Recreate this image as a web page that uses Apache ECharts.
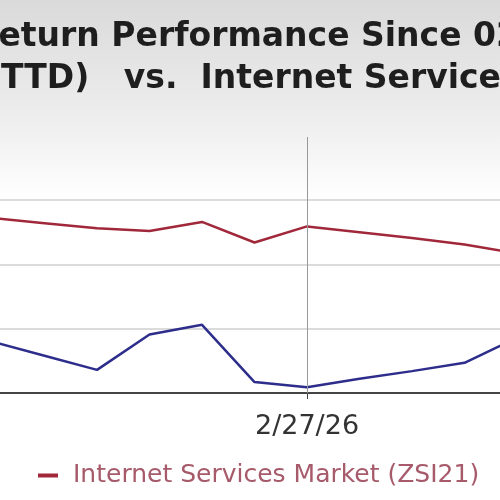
<!DOCTYPE html>
<html><head><meta charset="utf-8">
<script src="https://cdn.jsdelivr.net/npm/echarts@6/dist/echarts.min.js"></script>
<style>html,body{margin:0;padding:0;background:#fff}#c{width:500px;height:500px}</style>
</head><body><div id="c"></div>
<script>
var xIndex = [0,1,2,3,4,5,6,7,8,9,10];
var marketValues = [2.72,2.64,2.56,2.52,2.66,2.34,2.59,2.50,2.41,2.31,2.17];
var ttdValues = [0.80,0.58,0.36,0.91,1.06,0.17,0.09,0.22,0.34,0.47,0.86];
var xTickLabels = {6:'2/27/26'};
var titleLine1 = 'Return Performance Since 02/';
var titleLine2 = '(TTD)   vs.  Internet Services';
var marketName = 'Internet Services Market (ZSI21)';

var chart = echarts.init(document.getElementById('c'));
chart.setOption({
  animation:false,
  backgroundColor:'#fff',
  graphic:[
    {type:'rect',z:-10,silent:true,shape:{x:0,y:0,width:500,height:200},
     style:{fill:{type:'linear',x:0,y:0,x2:0,y2:1,colorStops:[{offset:0,color:'#dadada'},{offset:0.6,color:'#eeeeee'},{offset:1,color:'#ffffff'}]}}},
    {type:'text',left:-27,top:21,style:{text:titleLine1,font:'bold 33px "DejaVu Sans"',fill:'#1e1e1e'}},
    {type:'text',left:-14,top:63,style:{text:titleLine2,font:'bold 33px "DejaVu Sans"',fill:'#1e1e1e'}}
  ],
  grid:{left:0,right:0,top:137,bottom:107},
  legend:{data:[marketName],left:33,top:458,itemWidth:20,itemHeight:4,icon:'rect',
    textStyle:{color:'#a65a6a',fontSize:25,fontFamily:'DejaVu Sans',padding:[0,0,0,10]}},
  xAxis:{type:'value',min:0.152,max:9.676,
    axisLine:{lineStyle:{color:'#444',width:2}},
    axisTick:{customValues:[6],length:6,lineStyle:{color:'#444'}},
    axisLabel:{customValues:[6],formatter:function(v){return xTickLabels[v]||'';},color:'#333',fontSize:27,fontFamily:'DejaVu Sans',margin:20},
    splitLine:{show:false}},
  yAxis:{type:'value',min:0,max:3.98,interval:1,
    axisLine:{show:false},axisTick:{show:false},axisLabel:{show:false},
    splitLine:{showMaxLine:false,lineStyle:{color:'#cfcfcf',width:1.5}}},
  series:[
    {name:marketName,type:'line',data:xIndex.map(function(x,i){return [x,marketValues[i]];}),
     symbol:'none',lineStyle:{color:'#a0283a',width:2.5},itemStyle:{color:'#a0283a'},
     markLine:{silent:true,symbol:'none',label:{show:false},lineStyle:{color:'#999',type:'solid',width:1},data:[{xAxis:6}]}},
    {name:'TTD',type:'line',data:xIndex.map(function(x,i){return [x,ttdValues[i]];}),
     symbol:'none',lineStyle:{color:'#2d2d8c',width:2.5},itemStyle:{color:'#2d2d8c'}}
  ]
});
</script></body></html>
